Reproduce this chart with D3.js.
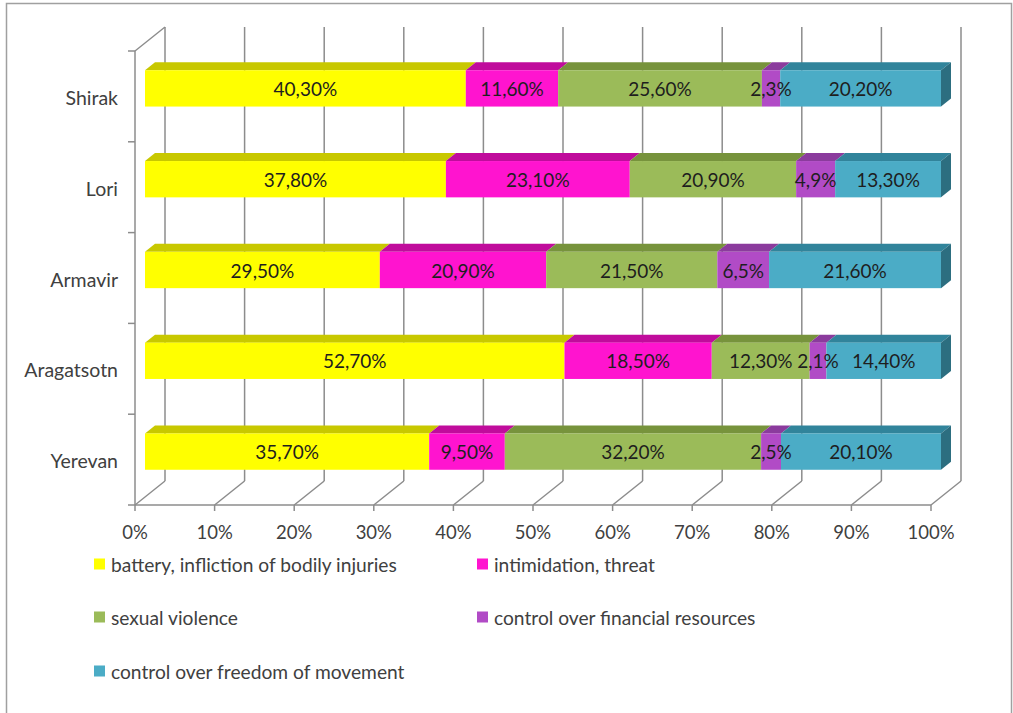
<!DOCTYPE html>
<html><head><meta charset="utf-8">
<script src="https://cdn.jsdelivr.net/npm/d3@7"></script>
<style>
html,body{margin:0;padding:0;background:#fff;}
svg{display:block;font-family:Lato,"Open Sans",sans-serif;}
</style></head>
<body>
<svg id="chart" width="1013" height="713"></svg>
<script>
// ---- data ----
const categories = ["Shirak", "Lori", "Armavir", "Aragatsotn", "Yerevan"];
const seriesNames = ["battery, infliction of bodily injuries", "intimidation, threat", "sexual violence", "control over financial resources", "control over freedom of movement"];
const battery   = [40.3, 37.8, 29.5, 52.7, 35.7];
const threat    = [11.6, 23.1, 20.9, 18.5, 9.5];
const sexual    = [25.6, 20.9, 21.5, 12.3, 32.2];
const financial = [2.3, 4.9, 6.5, 2.1, 2.5];
const movement  = [20.2, 13.3, 21.6, 14.4, 20.1];
const labelsBattery   = ["40,30%", "37,80%", "29,50%", "52,70%", "35,70%"];
const labelsThreat    = ["11,60%", "23,10%", "20,90%", "18,50%", "9,50%"];
const labelsSexual    = ["25,60%", "20,90%", "21,50%", "12,30%", "32,20%"];
const labelsFinancial = ["2,3%", "4,9%", "6,5%", "2,1%", "2,5%"];
const labelsMovement  = ["20,20%", "13,30%", "21,60%", "14,40%", "20,10%"];
const tickValues = [0, 10, 20, 30, 40, 50, 60, 70, 80, 90, 100];
const tickLabels = ["0%", "10%", "20%", "30%", "40%", "50%", "60%", "70%", "80%", "90%", "100%"];

const seriesValues = [battery, threat, sexual, financial, movement];
const seriesLabels = [labelsBattery, labelsThreat, labelsSexual, labelsFinancial, labelsMovement];
const frontColors = ["#FFFF00", "#FF14CF", "#9BBB59", "#B14BC6", "#4BACC6"];
const topColors   = ["#C8C800", "#C00C9C", "#77933C", "#8B3B9D", "#31849B"];
const sideColors  = ["#A8A800", "#A00A82", "#5F7630", "#6F2F7E", "#2C6E80"];

const svg = d3.select("#chart");

// outer frame
svg.append("rect").attr("x", 6.5).attr("y", 3.5).attr("width", 1005).attr("height", 716)
  .attr("fill", "none").attr("stroke", "#a0a0a0").attr("stroke-width", 1.5);

const x = d3.scaleLinear().domain([0, 100]).range([135, 931]);
const y = d3.scaleBand().domain(categories).range([51, 505]).paddingInner(0).paddingOuter(0);
const DX = 30, DY = -24;           // full depth offset
const f1 = 1/3, f2 = 2/3;          // bar depth slice

const grid = "#8c8c8c";
const g = svg.append("g");

// back wall gridlines
tickValues.forEach(v => {
  g.append("line").attr("x1", x(v) + DX).attr("x2", x(v) + DX)
    .attr("y1", 51 + DY).attr("y2", 505 + DY)
    .attr("stroke", grid).attr("stroke-width", 1.5);
  // floor diagonals
  g.append("line").attr("x1", x(v)).attr("y1", 505).attr("x2", x(v) + DX).attr("y2", 505 + DY)
    .attr("stroke", grid).attr("stroke-width", 1.5);
  // tick
  g.append("line").attr("x1", x(v)).attr("x2", x(v)).attr("y1", 505).attr("y2", 511)
    .attr("stroke", grid).attr("stroke-width", 1.5);
});
// front floor edge
g.append("line").attr("x1", x(0)).attr("x2", x(100)).attr("y1", 505).attr("y2", 505)
  .attr("stroke", grid).attr("stroke-width", 1.5);
// left wall front edge + top diagonal
g.append("line").attr("x1", x(0)).attr("x2", x(0)).attr("y1", 51).attr("y2", 505)
  .attr("stroke", grid).attr("stroke-width", 1.5);
g.append("line").attr("x1", x(0)).attr("y1", 51).attr("x2", x(0) + DX).attr("y2", 51 + DY)
  .attr("stroke", grid).attr("stroke-width", 1.5);
// left ticks
const bounds = categories.map(c => y(c)).concat([505]);
bounds.forEach(b => {
  g.append("line").attr("x1", x(0) - 7).attr("x2", x(0)).attr("y1", b).attr("y2", b)
    .attr("stroke", grid).attr("stroke-width", 1.5);
});

// bars
const bw = y.bandwidth();
const bh = bw * 0.4;
const fx = DX * f1, fy = DY * f1;
const bdx = DX * (f2 - f1), bdy = DY * (f2 - f1);
const bars = svg.append("g");
categories.forEach((cat, ci) => {
  let cum = 0;
  const yc = y(cat) + bw / 2 + fy;
  const yt = yc - bh / 2, yb = yc + bh / 2;
  const segs = seriesValues.map((s, si) => {
    const o = {si, x0: x(cum) + fx, x1: x(cum + s[ci]) + fx};
    cum += s[ci];
    return o;
  });
  segs.forEach(sg => {
    // top face
    bars.append("path")
      .attr("d", `M${sg.x0},${yt} L${sg.x0 + bdx},${yt + bdy} L${sg.x1 + bdx},${yt + bdy} L${sg.x1},${yt} Z`)
      .attr("fill", topColors[sg.si]);
    // front face
    bars.append("rect").attr("x", sg.x0).attr("y", yt).attr("width", sg.x1 - sg.x0).attr("height", bh)
      .attr("fill", frontColors[sg.si]);
  });
  const last = segs[segs.length - 1];
  bars.append("path")
    .attr("d", `M${last.x1},${yt} L${last.x1 + bdx},${yt + bdy} L${last.x1 + bdx},${yb + bdy} L${last.x1},${yb} Z`)
    .attr("fill", sideColors[last.si]);
  segs.forEach(sg => {
    bars.append("text").attr("x", (sg.x0 + sg.x1) / 2).attr("y", yc)
      .attr("text-anchor", "middle").attr("dominant-baseline", "central")
      .attr("font-size", 19).attr("fill", "#1e1e1e")
      .text(seriesLabels[sg.si][ci]);
  });
  // category label
  svg.append("text").attr("x", 118).attr("y", y(cat) + bw / 2 + 1)
    .attr("text-anchor", "end").attr("dominant-baseline", "central")
    .attr("font-size", 19.5).attr("fill", "#404040").text(cat);
});

// x tick labels
tickValues.forEach((v, i) => {
  svg.append("text").attr("x", x(v)).attr("y", 532)
    .attr("text-anchor", "middle").attr("dominant-baseline", "central")
    .attr("font-size", 18.5).attr("fill", "#404040").text(tickLabels[i]);
});

// legend
const legPos = [[94, 564], [477, 564], [94, 617], [477, 617], [94, 671]];
seriesNames.forEach((n, i) => {
  const [lx, ly] = legPos[i];
  svg.append("rect").attr("x", lx).attr("y", ly - 5.5).attr("width", 11).attr("height", 11)
    .attr("fill", frontColors[i]);
  svg.append("text").attr("x", lx + 17).attr("y", ly).attr("dominant-baseline", "central")
    .attr("font-size", 19.2).attr("fill", "#404040").text(n);
});
</script>
</body></html>
